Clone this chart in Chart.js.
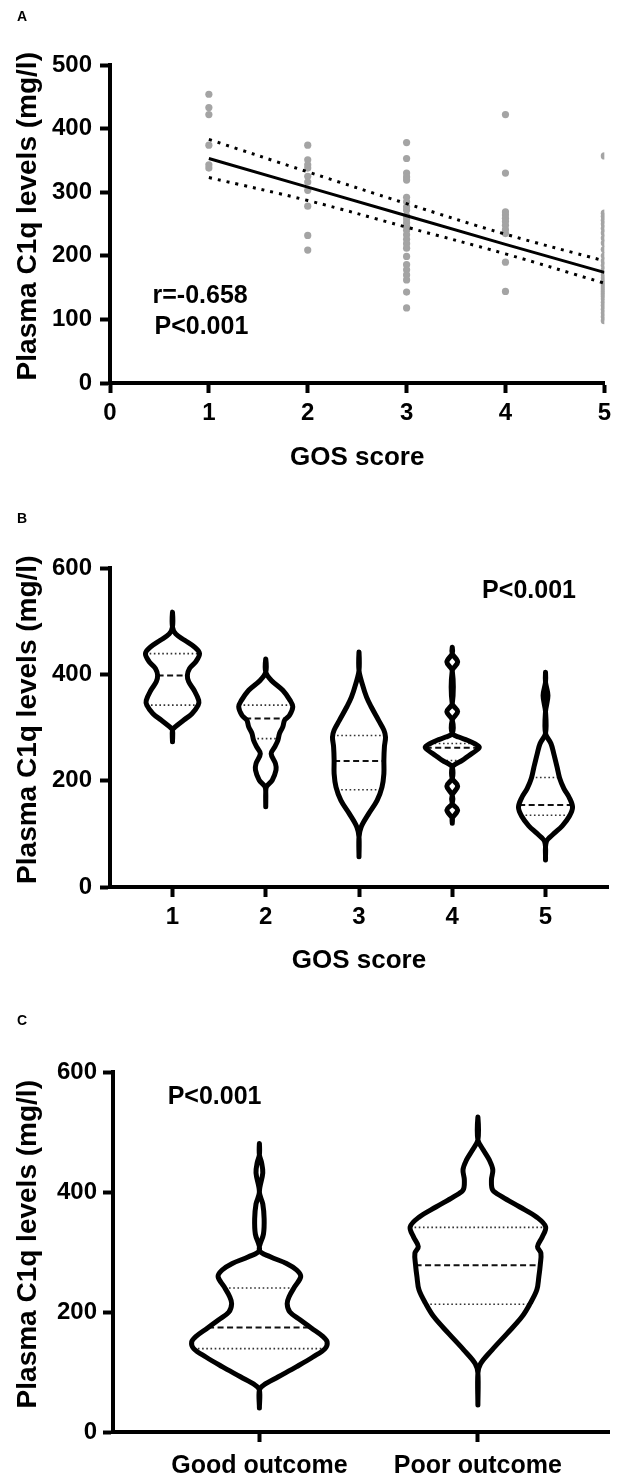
<!DOCTYPE html>
<html lang="en">
<head>
<meta charset="UTF-8">
<title>Plasma C1q levels and GOS score</title>
<script src="https://cdn.jsdelivr.net/npm/chart.js"></script>
<style>
  html, body { margin: 0; padding: 0; background: #fff; overflow: hidden; }
  .panel { position: absolute; left: 0; }
</style>
</head>
<body>
<canvas id="chartA" class="panel" style="top:0px" width="617" height="490"></canvas>
<canvas id="chartB" class="panel" style="top:490px" width="617" height="490"></canvas>
<canvas id="chartC" class="panel" style="top:980px" width="617" height="499"></canvas>

<script>
const FONT = '"Liberation Sans", Arial, Helvetica, sans-serif';

// ---- Panel A: individual C1q values (mg/l) per GOS score
const c1qGos1 = [454, 433, 422, 374, 343, 338];
const c1qGos2 = [374, 351, 343, 338, 325, 316, 303, 278, 232, 209];
const c1qGos3 = [378, 353, 330, 324, 319, 292, 285, 277, 272, 263, 258, 252, 246, 240, 233, 226, 219, 212, 199, 186, 178, 170, 162, 143, 118];
const c1qGos4 = [422, 330, 269, 264, 259, 254, 248, 241, 235, 190, 144];
const c1qGos5 = [357, 267, 262, 256, 250, 243, 236, 228, 220, 210, 200, 192, 185, 178, 170, 165, 160, 157, 154, 151, 148, 145, 142, 139, 136, 132, 127, 122, 116, 110, 104, 98];

// regression line and 95% confidence band
const fitX = [1, 2, 3, 4, 5];
const fitLine = [353, 308, 263, 218, 174];
const fitUpper = [383, 332, 282, 234, 192];
const fitLower = [323, 287, 245, 203, 157];

// ---- Panel B: violin outlines per GOS score (level mg/l, relative width 0-1)
const gosScores = [1, 2, 3, 4, 5];
const b1Levels = [273, 295, 301, 314, 326, 342, 351, 370, 386, 398, 411, 423, 439, 451, 464, 476, 489, 517];
const b1Width  = [0, 0, 0.1, 0.42, 0.72, 0.95, 0.97, 0.8, 0.6, 0.55, 0.63, 0.85, 1.0, 0.82, 0.45, 0.12, 0, 0];
const b2Levels = [151, 179, 189, 201, 220, 232, 251, 264, 276, 289, 301, 314, 323, 339, 351, 370, 389, 404, 429];
const b2Width  = [0, 0, 0.03, 0.24, 0.38, 0.36, 0.2, 0.34, 0.45, 0.51, 0.63, 0.7, 0.88, 1.0, 0.9, 0.63, 0.2, 0, 0];
const b3Levels = [57, 94, 113, 138, 163, 188, 213, 239, 264, 282, 295, 313, 339, 357, 382, 407, 442];
const b3Width  = [0, 0, 0.08, 0.36, 0.67, 0.85, 0.92, 0.92, 0.94, 0.98, 0.92, 0.73, 0.45, 0.28, 0.12, 0, 0];
const b4Levels = [120, 129, 145, 157, 173, 190, 204, 226, 231, 238, 247, 257, 263, 269, 276, 282, 289, 314, 330, 345, 407, 423, 439, 451];
const b4Width  = [0, 0, 0.2, 0, 0, 0.2, 0, 0, 0.12, 0.37, 0.61, 0.89, 1.0, 0.85, 0.56, 0.24, 0, 0, 0.2, 0, 0, 0.2, 0, 0];
const b5Levels = [51, 85, 100, 115, 133, 150, 168, 185, 205, 225, 252, 270, 289, 330, 360, 385, 404];
const b5Width  = [0, 0.03, 0.3, 0.62, 0.88, 1.0, 0.88, 0.68, 0.52, 0.43, 0.3, 0.2, 0, 0, 0.09, 0, 0];
const bQ1     = [342, 279, 183, 238, 135];
const bMedian = [398, 317, 237, 262, 154];
const bQ3     = [439, 342, 285, 270, 206];

// ---- Panel C: violin outlines by outcome
const outcomeLabels = ['Good outcome', 'Poor outcome'];
const goodLevels = [40, 70, 78, 92, 109, 125, 139, 150, 159, 173, 187, 200, 214, 226, 242, 259, 270, 281, 292, 303, 330, 355, 380, 400, 432, 450, 462, 481];
const goodWidth  = [0, 0, 0.06, 0.28, 0.55, 0.79, 0.97, 1.0, 0.94, 0.77, 0.6, 0.45, 0.41, 0.44, 0.52, 0.61, 0.55, 0.4, 0.16, 0, 0.06, 0.07, 0.05, 0, 0.05, 0.03, 0, 0];
const poorLevels = [45, 98, 114, 137, 164, 192, 214, 237, 259, 278, 298, 309, 325, 342, 358, 375, 392, 403, 420, 437, 453, 470, 487, 525];
const poorWidth  = [0, 0, 0.04, 0.21, 0.43, 0.65, 0.77, 0.87, 0.9, 0.92, 0.93, 0.88, 0.95, 1.0, 0.87, 0.62, 0.36, 0.22, 0.2, 0.22, 0.17, 0.08, 0, 0];
const cQ1     = [139, 213];
const cMedian = [174, 278];
const cQ3     = [240, 341];

// closed outline: up the right side, back down the left side
function violinPath(center, levels, widths, maxW) {
  const pts = [];
  levels.forEach((y, i) => pts.push({ x: center + widths[i] * maxW, y: y }));
  for (let i = levels.length - 2; i >= 0; i--) {
    pts.push({ x: center - widths[i] * maxW, y: levels[i] });
  }
  return pts;
}

function widthAt(level, levels, widths) {
  for (let i = 1; i < levels.length; i++) {
    if (level <= levels[i]) {
      const t = (level - levels[i - 1]) / (levels[i] - levels[i - 1]);
      return widths[i - 1] + t * (widths[i] - widths[i - 1]);
    }
  }
  return 0;
}

function violinSets(centers, profiles, q1, med, q3, maxW) {
  const sets = [];
  profiles.forEach((p, i) => {
    const c = centers[i];
    sets.push({
      data: violinPath(c, p.levels, p.widths, maxW),
      showLine: true, tension: 0.35, borderColor: '#000', borderWidth: 5,
      borderJoinStyle: 'round', borderCapStyle: 'round', pointRadius: 0, order: 1
    });
    [q1[i], q3[i], med[i]].forEach((lvl, k) => {
      const w = widthAt(lvl, p.levels, p.widths) * maxW;
      sets.push({
        data: [{ x: c - w, y: lvl }, { x: c + w, y: lvl }],
        showLine: true, pointRadius: 0, order: 2,
        borderColor: k === 2 ? '#111' : '#333',
        borderWidth: k === 2 ? 2 : 1.6,
        borderDash: k === 2 ? [6, 3.5] : [1.6, 2.6]
      });
    });
  });
  return sets;
}

// text drawn on top: panel letters and statistics
const panelText = {
  id: 'panelText',
  afterDraw(chart, args, opts) {
    const ctx = chart.ctx;
    ctx.save();
    ctx.fillStyle = '#000';
    ctx.textBaseline = 'middle';
    ctx.textAlign = 'left';
    (opts.items || []).forEach(it => {
      ctx.font = 'bold ' + it.size + 'px ' + FONT;
      const x = it.px !== undefined ? it.px : chart.scales.x.getPixelForValue(it.x);
      const y = it.py !== undefined ? it.py : chart.scales.y.getPixelForValue(it.y);
      ctx.fillText(it.text, x, y);
    });
    ctx.restore();
  }
};

function axisGrid() {
  return { drawOnChartArea: false, drawTicks: true, tickLength: 10, tickWidth: 4, tickColor: '#000' };
}
function tickFont(size) {
  return { family: FONT, size: size, weight: 'bold' };
}
// leading no-break spaces nudge the rotated title up a little, as in the figure
const yTitle = {
  display: true, text: '\u00a0\u00a0Plasma C1q levels (mg/l)', color: '#000',
  font: { family: FONT, size: 28, weight: 'bold' }, padding: { top: 11, bottom: 0 }
};

// ---------- Panel A
const scatterPoints = [];
[c1qGos1, c1qGos2, c1qGos3, c1qGos4, c1qGos5].forEach((vals, i) => {
  vals.forEach(v => scatterPoints.push({ x: gosScores[i], y: v }));
});
const toXY = ys => fitX.map((x, i) => ({ x: x, y: ys[i] }));

new Chart(document.getElementById('chartA'), {
  type: 'scatter',
  data: {
    datasets: [
      { data: toXY(fitLine), showLine: true, borderColor: '#000', borderWidth: 3, pointRadius: 0, order: 1 },
      { data: toXY(fitUpper), showLine: true, tension: 0.4, borderColor: '#000', borderWidth: 3, borderDash: [3, 6], pointRadius: 0, order: 1 },
      { data: toXY(fitLower), showLine: true, tension: 0.4, borderColor: '#000', borderWidth: 3, borderDash: [3, 6], pointRadius: 0, order: 1 },
      { data: scatterPoints, backgroundColor: '#a4a4a4', borderWidth: 0, pointRadius: 3.6, order: 2 }
    ]
  },
  options: {
    responsive: false, animation: false, devicePixelRatio: 1,
    layout: { padding: { top: 65, right: 10, left: 0, bottom: 0 } },
    plugins: {
      legend: { display: false }, tooltip: { enabled: false },
      panelText: { items: [
        { text: 'A', px: 17, py: 17, size: 14 },
        { text: 'r=-0.658', x: 0.43, y: 136, size: 25 },
        { text: 'P<0.001', x: 0.45, y: 88, size: 25 }
      ] }
    },
    scales: {
      x: {
        type: 'linear', min: 0, max: 5,
        ticks: { stepSize: 1, color: '#000', font: tickFont(24), padding: 6 },
        grid: axisGrid(), border: { color: '#000', width: 4 },
        title: { display: true, text: 'GOS score', color: '#000', font: { family: FONT, size: 26, weight: 'bold' }, padding: { top: 0, bottom: 17 } },
        afterFit: s => { s.height = 107; }
      },
      y: {
        min: 0, max: 500,
        ticks: { stepSize: 100, color: '#000', font: tickFont(24), padding: 8 },
        grid: axisGrid(), border: { color: '#000', width: 4 },
        title: yTitle,
        afterFit: s => { s.width = 110; }
      }
    }
  },
  plugins: [panelText]
});

// ---------- Panel B
const bProfiles = [
  { levels: b1Levels, widths: b1Width },
  { levels: b2Levels, widths: b2Width },
  { levels: b3Levels, widths: b3Width },
  { levels: b4Levels, widths: b4Width },
  { levels: b5Levels, widths: b5Width }
];

new Chart(document.getElementById('chartB'), {
  type: 'scatter',
  data: { datasets: violinSets(gosScores, bProfiles, bQ1, bMedian, bQ3, 0.29) },
  options: {
    responsive: false, animation: false, devicePixelRatio: 1,
    layout: { padding: { top: 78, right: 9, left: 0, bottom: 0 } },
    plugins: {
      legend: { display: false }, tooltip: { enabled: false },
      panelText: { items: [
        { text: 'B', px: 17, py: 29, size: 14 },
        { text: 'P<0.001', x: 4.32, y: 557, size: 25 }
      ] }
    },
    scales: {
      x: {
        type: 'linear', min: 0.33, max: 5.67,
        afterBuildTicks: s => { s.ticks = gosScores.map(v => ({ value: v })); },
        ticks: { color: '#000', font: tickFont(24), padding: 6 },
        grid: axisGrid(), border: { color: '#000', width: 4 },
        title: { display: true, text: 'GOS score', color: '#000', font: { family: FONT, size: 26, weight: 'bold' }, padding: { top: 0, bottom: 4 } },
        afterFit: s => { s.height = 93; }
      },
      y: {
        min: 0, max: 600,
        ticks: { stepSize: 200, color: '#000', font: tickFont(24), padding: 8 },
        grid: axisGrid(), border: { color: '#000', width: 4 },
        title: yTitle,
        afterFit: s => { s.width = 110; }
      }
    }
  },
  plugins: [panelText]
});

// ---------- Panel C
const cProfiles = [
  { levels: goodLevels, widths: goodWidth },
  { levels: poorLevels, widths: poorWidth }
];

new Chart(document.getElementById('chartC'), {
  type: 'scatter',
  data: { datasets: violinSets([1, 2], cProfiles, cQ1, cMedian, cQ3, 0.31) },
  options: {
    responsive: false, animation: false, devicePixelRatio: 1,
    layout: { padding: { top: 92, right: 8, left: 0, bottom: 0 } },
    plugins: {
      legend: { display: false }, tooltip: { enabled: false },
      panelText: { items: [
        { text: 'C', px: 17, py: 41, size: 14 },
        { text: 'P<0.001', x: 0.58, y: 558, size: 25 }
      ] }
    },
    scales: {
      x: {
        type: 'linear', min: 0.33, max: 2.6,
        afterBuildTicks: s => { s.ticks = [1, 2].map(v => ({ value: v })); },
        ticks: { color: '#000', font: tickFont(25), padding: 9, callback: v => outcomeLabels[v - 1] },
        grid: axisGrid(), border: { color: '#000', width: 4 },
        afterFit: s => { s.height = 47; }
      },
      y: {
        min: 0, max: 600,
        ticks: { stepSize: 200, color: '#000', font: tickFont(24), padding: 6 },
        grid: axisGrid(), border: { color: '#000', width: 4 },
        title: yTitle,
        afterFit: s => { s.width = 113; }
      }
    }
  },
  plugins: [panelText]
});
</script>
</body>
</html>
